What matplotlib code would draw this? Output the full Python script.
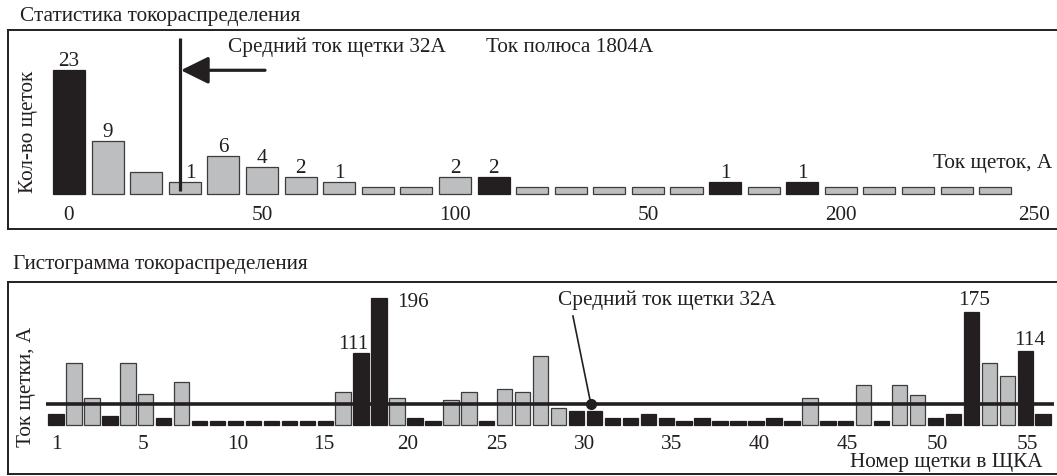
import matplotlib
matplotlib.use("Agg")
import matplotlib.pyplot as plt
import numpy as np

plt.rcParams["font.family"] = ["Liberation Serif", "DejaVu Serif"]

# ---------------- data ----------------
# current distribution statistics (bins of 10 A)
bin_start = list(range(0, 250, 10))
brush_count = [23, 9, 3, 1, 6, 4, 2, 1, 0, 0, 2, 2, 0, 0, 0, 0, 0, 1, 0, 1, 0, 0, 0, 0, 0]
dark_bins = [0, 11, 17, 19]
labelled_bins = [0, 1, 3, 4, 5, 6, 7, 10, 11, 17, 19]
top_ticks = [0, 50, 100, 150, 200, 250]
top_tick_labels = ["0", "50", "100", "50", "200", "250"]

# current per brush
brush_no = list(range(1, 57))
brush_current = [17, 96, 41, 13, 96, 47, 11, 66, 6, 6, 6, 6, 6, 6, 6, 6,
                 51, 111, 196, 41, 11, 6, 38, 51, 6, 56, 51, 106, 26, 22,
                 22, 11, 11, 17, 11, 6, 11, 6, 6, 6, 11, 6, 41, 6, 6, 62,
                 6, 62, 46, 11, 17, 175, 96, 76, 114, 17]
grey_brushes = [2, 3, 5, 6, 8, 17, 20, 23, 24, 26, 27, 28, 29, 43, 46, 48, 49, 53, 54]
labelled_brushes = [18, 19, 52, 55]
bottom_tick_labels = ["1", "5", "10", "15", "20", "25", "30", "35", "40", "45", "50", "55"]
bottom_tick_pos = [1.05, 5.85, 11.1, 15.9, 20.6, 25.55, 30.45, 35.3, 40.2, 45.1, 50.1, 55.15]

mean_current = 32
pole_current = 1804
mean_marker_bin = 28.8
mean_dot_brush = 30.8

# ---------------- style ----------------
DARK = "#231f20"
GREY = "#bcbec0"
EDGE = "#3c3c3c"
FS = 15.3

W, H = 1057, 477
fig = plt.figure(figsize=(W / 100, H / 100), dpi=100)


def fx(px):
    return px / W


def fy(py):
    return 1 - py / H


def frame(ax):
    for side in ("left", "top", "bottom"):
        ax.spines[side].set_linewidth(1.4)
        ax.spines[side].set_color(DARK)
    ax.spines["right"].set_visible(False)
    ax.set_xticks([])
    ax.set_yticks([])
    ax.patch.set_alpha(0)


# ---------------- top panel: statistics ----------------
ax1 = fig.add_axes([fx(8), fy(230), 1.0 - fx(8), (230 - 31) / H])
frame(ax1)
ax1.set_xlim(-15.8, 256)
ax1.set_ylim(-8.24, 30.8)

base = 1.37  # empty bins still get a thin plate
colors = [DARK if i in dark_bins else GREY for i in range(len(bin_start))]
edges = [DARK if i in dark_bins else EDGE for i in range(len(bin_start))]
ax1.bar(bin_start, np.array(brush_count) + base, bottom=-base, width=8.3,
        color=colors, edgecolor=edges, linewidth=0.9, zorder=2)

for i in labelled_bins:
    dx = 4 if i == 3 else 0
    ax1.annotate(str(brush_count[i]), (bin_start[i], brush_count[i]),
                 xytext=(dx, 3.6), textcoords="offset points",
                 ha="center", va="baseline", fontsize=FS, color=DARK)

for t, lab in zip(top_ticks, top_tick_labels):
    ax1.text(t, -6.27, lab, ha="center", va="baseline", fontsize=FS, color=DARK)

# mean-current marker with arrow
ax1.plot([mean_marker_bin, mean_marker_bin], [-0.8, 29.2], color=DARK, lw=2.3,
         solid_capstyle="butt", zorder=4)
ax1.annotate("", xy=(mean_marker_bin + 0.2, 22.9), xytext=(50.8, 22.9),
             arrowprops=dict(arrowstyle="-|>,head_length=0.85,head_width=0.42",
                             mutation_scale=20, lw=2.3, color=DARK,
                             shrinkA=0, shrinkB=0), zorder=4)

ax1.text(41.2, 27.6, f"Средний ток щетки {mean_current}А", ha="left", va="center",
         fontsize=FS, color=DARK)
ax1.text(108, 27.6, f"Ток полюса {pole_current}А", ha="left", va="center",
         fontsize=FS, color=DARK)
ax1.text(254.7, 4.9, "Ток щеток, А", ha="right", va="center", fontsize=FS, color=DARK)

fig.text(fx(29), fy(132), "Кол-во щеток", rotation=90, ha="center", va="center",
         fontsize=FS, color=DARK)
fig.text(fx(20), fy(16), "Статистика токораспределения", ha="left", va="center",
         fontsize=FS, color=DARK)

# ---------------- bottom panel: histogram ----------------
ax2 = fig.add_axes([fx(8), fy(475), 1.0 - fx(8), (475 - 283) / H])
frame(ax2)
ax2.set_xlim(-1.674, 56.77)
ax2.set_ylim(-76.4, 221.2)

colors2 = [GREY if n in grey_brushes else DARK for n in brush_no]
edges2 = [EDGE if n in grey_brushes else DARK for n in brush_no]
ax2.bar(brush_no, brush_current, width=0.86, color=colors2, edgecolor=edges2,
        linewidth=0.9, zorder=2)

ax2.plot([0.44, 56.6], [mean_current, mean_current], color=DARK, lw=2.6,
         solid_capstyle="butt", zorder=3)
ax2.plot([mean_dot_brush], [mean_current], "o", color=DARK, ms=7, zorder=4)
ax2.plot([mean_dot_brush, 29.8], [mean_current, 168.5], color=DARK, lw=1.2, zorder=4)
ax2.text(28.97, 195, f"Средний ток щетки {mean_current}А", ha="left", va="center",
         fontsize=FS, color=DARK)

label_offsets = {18: (-8, 10), 19: (34, -3), 52: (2.5, 12), 55: (4, 12)}
for n in labelled_brushes:
    dx, dy = label_offsets[n]
    ax2.annotate(str(brush_current[n - 1]), (n, brush_current[n - 1]),
                 xytext=(dx * 0.72, dy * 0.72), textcoords="offset points",
                 ha="center", va="center", fontsize=FS, color=DARK)

for t, lab in zip(bottom_tick_pos, bottom_tick_labels):
    ax2.text(t, -36.1, lab, ha="center", va="baseline", fontsize=FS, color=DARK)

fig.text(fx(1043), fy(463), "Номер щетки в ЩКА", ha="right", va="center",
         fontsize=FS, color=DARK)
fig.text(fx(26), fy(387), "Ток щетки, А", rotation=90, ha="center", va="center",
         fontsize=FS, color=DARK)
fig.text(fx(13), fy(265), "Гистограмма токораспределения", ha="left", va="center",
         fontsize=FS, color=DARK)

fig.savefig("out.png", dpi=100)
